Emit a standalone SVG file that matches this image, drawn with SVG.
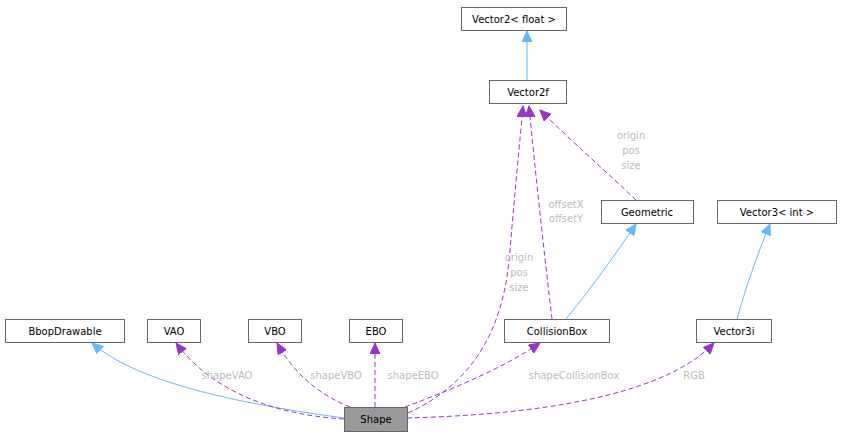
<svg xmlns="http://www.w3.org/2000/svg" width="842" height="437" viewBox="0 0 842 437">
<style>
.n rect{fill:#fff;stroke:#666;stroke-width:1}
.n text{font-family:"DejaVu Sans",sans-serif;font-size:10px;fill:#000;text-anchor:middle}
.i{fill:none;stroke:#63b8ff;stroke-width:1}
.u{fill:none;stroke:#9a32cd;stroke-width:1;stroke-dasharray:5,3}
.l{font-family:"DejaVu Sans",sans-serif;font-size:10px;fill:#bbb;text-anchor:middle}
</style>
<defs>
<marker id="ab" markerWidth="12" markerHeight="10" refX="11" refY="5" orient="auto" markerUnits="userSpaceOnUse"><path d="M0,0 L11,5 L0,10 Z" fill="#63b8ff" stroke="#63b8ff"/></marker>
<marker id="ap" markerWidth="12" markerHeight="10" refX="11" refY="5" orient="auto" markerUnits="userSpaceOnUse"><path d="M0,0 L11,5 L0,10 Z" fill="#9a32cd" stroke="#9a32cd"/></marker>
</defs>
<rect width="842" height="437" fill="#fff"/>
<g id="connectors">
<path class="i" d="M527,80 L527,31" marker-end="url(#ab)"/>
<path class="u" d="M636,200 C610,175 570,140 540,110" marker-end="url(#ap)"/>
<path class="u" d="M552,319 C545,260 535,170 529,106" marker-end="url(#ap)"/>
<path class="u" d="M408,413 C480,380 505,320 510,250 C515,190 520,140 523,106" marker-end="url(#ap)"/>
<path class="i" d="M566,319 C590,290 615,255 636,224" marker-end="url(#ab)"/>
<path class="i" d="M737,319 C745,290 757,255 770,224" marker-end="url(#ab)"/>
<path class="i" d="M344,418 C250,405 140,385 92,343" marker-end="url(#ab)"/>
<path class="u" d="M344,419 C280,415 215,395 176,343" marker-end="url(#ap)"/>
<path class="u" d="M350,407 C320,395 295,375 277,343" marker-end="url(#ap)"/>
<path class="u" d="M375,407 L375,343" marker-end="url(#ap)"/>
<path class="u" d="M405,407 C450,390 500,370 540,343" marker-end="url(#ap)"/>
<path class="u" d="M407,418 C520,415 660,400 714,343" marker-end="url(#ap)"/>
</g>
<g class="l">
<text x="631" y="139">origin</text><text x="631" y="154">pos</text><text x="631" y="169">size</text>
<text x="566" y="208">offsetX</text><text x="566" y="222">offsetY</text>
<text x="519" y="261">origin</text><text x="519" y="276">pos</text><text x="519" y="291">size</text>
<text x="227" y="379">shapeVAO</text>
<text x="336" y="379">shapeVBO</text>
<text x="413" y="379">shapeEBO</text>
<text x="574" y="379">shapeCollisionBox</text>
<text x="694" y="379">RGB</text>
</g>
<g id="n_vec2float" class="n"><rect x="461.5" y="7.5" width="105" height="23"/><text x="514" y="23">Vector2&lt; float &gt;</text></g>
<g id="n_vector2f" class="n"><rect x="489.5" y="80.5" width="77" height="23"/><text x="528" y="96">Vector2f</text></g>
<g id="n_geometric" class="n"><rect x="601.5" y="200.5" width="92" height="23"/><text x="647" y="216">Geometric</text></g>
<g id="n_vec3int" class="n"><rect x="717.5" y="200.5" width="119" height="23"/><text x="777" y="216">Vector3&lt; int &gt;</text></g>
<g id="n_bbop" class="n"><rect x="5.5" y="319.5" width="119" height="23"/><text x="65" y="335">BbopDrawable</text></g>
<g id="n_vao" class="n"><rect x="147.5" y="319.5" width="53" height="23"/><text x="174" y="335">VAO</text></g>
<g id="n_vbo" class="n"><rect x="248.5" y="319.5" width="53" height="23"/><text x="275" y="335">VBO</text></g>
<g id="n_ebo" class="n"><rect x="349.5" y="319.5" width="53" height="23"/><text x="376" y="335">EBO</text></g>
<g id="n_collision" class="n"><rect x="504.5" y="319.5" width="105" height="23"/><text x="557" y="335">CollisionBox</text></g>
<g id="n_vector3i" class="n"><rect x="696.5" y="319.5" width="75" height="23"/><text x="734" y="335">Vector3i</text></g>
<g id="n_shape" class="n"><rect x="344.5" y="407.5" width="63" height="24" style="fill:#999"/><text x="376" y="423">Shape</text></g>
</svg>
